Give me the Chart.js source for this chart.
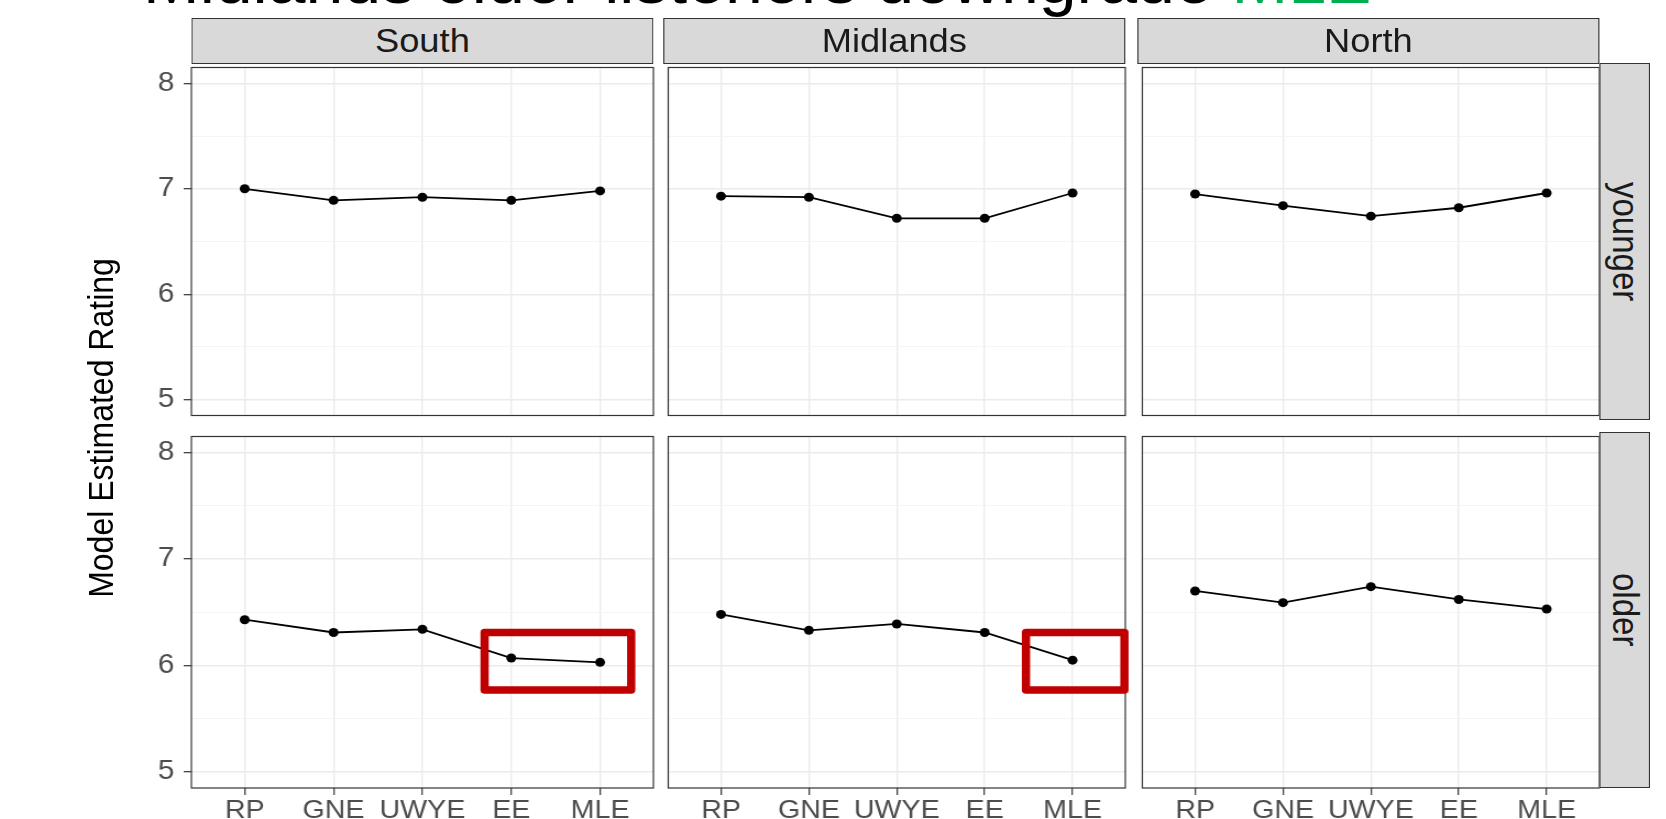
<!DOCTYPE html>
<html>
<head>
<meta charset="utf-8">
<script src="https://cdn.jsdelivr.net/npm/chart.js@4.4.1/dist/chart.umd.min.js"></script>
<style>
  body { margin: 0; background: #fff; width: 1666px; height: 819px; overflow: hidden; position: relative;
         font-family: 'Liberation Sans', Arial, sans-serif; }
  #title { position: absolute; left: 143px; top: -55px; font-size: 68px; line-height: 1; white-space: nowrap; color: #000; }
  #title span { color: #00B050; }
  /* the plot image in the slide is stretched sideways a bit */
  #stage { position: absolute; left: 0; top: 0; width: 1515px; height: 819px; transform: scaleX(1.1); transform-origin: 0 0; }
  .strip { position: absolute; background: #D9D9D9; border: 1px solid #333; box-sizing: border-box; color: #1A1A1A;
           font-size: 33px; display: flex; align-items: center; justify-content: center; }
  .strip.side { writing-mode: vertical-rl; }
  #ytitle { position: absolute; left: 92px; top: 428px; font-size: 32px; color: #000; white-space: nowrap;
            transform: translate(-50%, -50%) rotate(-90deg); }
  canvas { position: absolute; }
</style>
</head>
<body>
<div id="title">Midlands older listeners downgrade <span>MLE</span></div>
<div id="stage">
  <div id="ytitle">Model Estimated Rating</div>
</div>
<script>
const categories = ['RP', 'GNE', 'UWYE', 'EE', 'MLE'];
const regions = ['South', 'Midlands', 'North'];
const ages = ['younger', 'older'];

const southYounger = [7.00, 6.89, 6.92, 6.89, 6.98];
const midlandsYounger = [6.93, 6.92, 6.72, 6.72, 6.96];
const northYounger = [6.95, 6.84, 6.74, 6.82, 6.96];
const southOlder = [6.43, 6.31, 6.34, 6.07, 6.03];
const midlandsOlder = [6.48, 6.33, 6.39, 6.31, 6.05];
const northOlder = [6.70, 6.59, 6.74, 6.62, 6.53];

const yTicks = [5, 6, 7, 8];
const yMinorTicks = [5.5, 6.5, 7.5];

// red highlight boxes, in data units of the panel they sit on
const southOlderBox = { x: [2.70, 4.35], y: [5.77, 6.31] };
const midlandsOlderBox = { x: [3.47, 4.59], y: [5.77, 6.31] };

const series = [
  [southYounger, midlandsYounger, northYounger],
  [southOlder, midlandsOlder, northOlder],
];
const boxes = [[null, null, null], [southOlderBox, midlandsOlderBox, null]];

// layout (in unstretched px)
const panelLeft = [174, 603, 1034];
const panelW = 420;
const rowTop = [63, 432];
const panelH = [357, 356];
const yAxisW = 124;
const xAxisH = 31;
const padRight = 8;
const font = 'Liberation Sans, Arial, sans-serif';

const stage = document.getElementById('stage');

const panelPlugin = {
  id: 'panel',
  afterDraw(chart, args, opts) {
    const { ctx, chartArea: ca } = chart;
    ctx.save();
    ctx.strokeStyle = '#333';
    ctx.lineWidth = 1.2;
    ctx.strokeRect(ca.left, ca.top, ca.right - ca.left, ca.bottom - ca.top);
    if (opts.box) {
      const x = chart.scales.x, y = chart.scales.y;
      const x0 = x.getPixelForValue(opts.box.x[0]), x1 = x.getPixelForValue(opts.box.x[1]);
      const y0 = y.getPixelForValue(opts.box.y[1]), y1 = y.getPixelForValue(opts.box.y[0]);
      ctx.strokeStyle = '#C00000';
      ctx.lineWidth = 7.5;
      ctx.lineJoin = 'round';
      ctx.strokeRect(x0, y0, x1 - x0, y1 - y0);
    }
    ctx.restore();
  },
};

function makePanel(r, c) {
  const showY = c === 0;
  const showX = r === 1;
  const cv = document.createElement('canvas');
  cv.width = panelW + (showY ? yAxisW : 0) + padRight;
  cv.height = panelH[r] + (showX ? xAxisH : 0);
  cv.style.left = (panelLeft[c] - (showY ? yAxisW : 0)) + 'px';
  cv.style.top = rowTop[r] + 'px';
  stage.appendChild(cv);

  new Chart(cv, {
    type: 'line',
    data: {
      datasets: [{
        data: series[r][c].map((v, i) => ({ x: i, y: v })),
        borderColor: '#000',
        backgroundColor: '#000',
        borderWidth: 1.8,
        pointRadius: 4.5,
        pointBorderWidth: 0,
        tension: 0,
      }],
    },
    options: {
      responsive: false,
      animation: false,
      events: [],
      layout: { padding: { left: 0, right: padRight, top: 0, bottom: 0 } },
      plugins: {
        legend: { display: false },
        tooltip: { enabled: false },
        panel: { box: boxes[r][c] },
      },
      scales: {
        x: {
          type: 'linear',
          min: -0.6,
          max: 4.6,
          afterBuildTicks: (s) => { s.ticks = categories.map((_, i) => ({ value: i })); },
          afterFit: (s) => {
            s.height = showX ? xAxisH : 0;
            s.paddingLeft = s.paddingRight = s.paddingTop = s.paddingBottom = 0;
          },
          ticks: {
            display: showX, autoSkip: false, maxRotation: 0, padding: 0,
            color: '#4D4D4D', font: { family: font, size: 26 },
            callback: (v) => categories[v],
          },
          grid: { color: '#EBEBEB', lineWidth: 1.4, drawTicks: showX, tickLength: 7, tickColor: '#333', tickWidth: 1.2 },
          border: { display: false },
        },
        y: {
          type: 'linear',
          min: 4.85,
          max: 8.15,
          afterBuildTicks: (s) => {
            s.ticks = [...yTicks, ...yMinorTicks].sort((a, b) => a - b).map((v) => ({ value: v }));
          },
          afterFit: (s) => {
            s.width = showY ? yAxisW : 0;
            s.paddingLeft = s.paddingRight = s.paddingTop = s.paddingBottom = 0;
          },
          ticks: {
            display: showY, autoSkip: false, padding: 8.5,
            color: '#4D4D4D', font: { family: font, size: 27 },
            callback: (v) => (yTicks.includes(v) ? String(v) : ''),
          },
          grid: {
            color: (ctx) => (yTicks.includes(ctx.tick.value) ? '#EBEBEB' : '#F3F3F3'),
            lineWidth: (ctx) => (yTicks.includes(ctx.tick.value) ? 1.4 : 0.8),
            drawTicks: showY,
            tickLength: 7,
            tickColor: (ctx) => (yTicks.includes(ctx.tick.value) ? '#333' : 'rgba(0,0,0,0)'),
            tickWidth: 1.2,
          },
          border: { display: false },
        },
      },
    },
    plugins: [panelPlugin],
  });
}

for (let r = 0; r < ages.length; r++) {
  for (let c = 0; c < regions.length; c++) makePanel(r, c);
}

// facet strips
regions.forEach((name, c) => {
  const d = document.createElement('div');
  d.className = 'strip';
  d.textContent = name;
  Object.assign(d.style, { left: panelLeft[c] + 'px', top: '18px', width: panelW + 'px', height: '46px' });
  stage.appendChild(d);
});
ages.forEach((name, r) => {
  const d = document.createElement('div');
  d.className = 'strip side';
  d.textContent = name;
  Object.assign(d.style, { left: (panelLeft[2] + panelW) + 'px', top: rowTop[r] + 'px', width: '46px', height: panelH[r] + 'px' });
  stage.appendChild(d);
});
</script>
</body>
</html>
